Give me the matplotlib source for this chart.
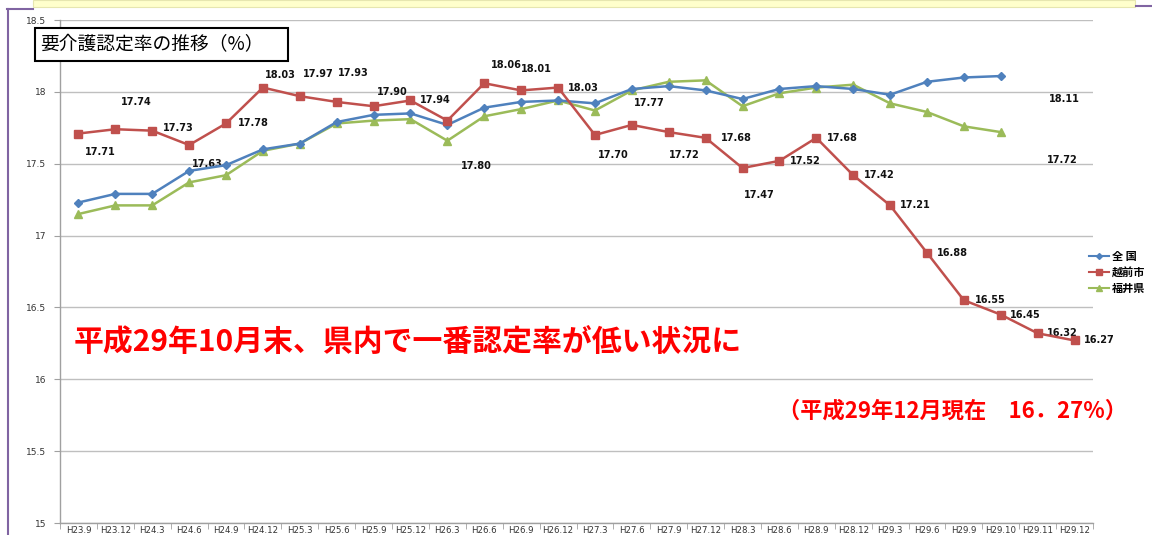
import matplotlib
matplotlib.use("Agg")
import matplotlib.pyplot as plt
from matplotlib.patches import Rectangle
from matplotlib.lines import Line2D

plt.rcParams['font.family'] = ['DejaVu Sans', 'Noto Sans CJK JP']

# ---------------- data ----------------
periods = ["H23.9", "H23.12", "H24.3", "H24.6", "H24.9", "H24.12", "H25.3", "H25.6",
           "H25.9", "H25.12", "H26.3", "H26.6", "H26.9", "H26.12", "H27.3", "H27.6",
           "H27.9", "H27.12", "H28.3", "H28.6", "H28.9", "H28.12", "H29.3", "H29.6",
           "H29.9", "H29.10", "H29.11", "H29.12"]

national = [17.23, 17.29, 17.29, 17.45, 17.49, 17.60, 17.64, 17.79, 17.84, 17.85,
            17.77, 17.89, 17.93, 17.94, 17.92, 18.02, 18.04, 18.01, 17.95, 18.02,
            18.04, 18.02, 17.98, 18.07, 18.10, 18.11]

echizen = [17.71, 17.74, 17.73, 17.63, 17.78, 18.03, 17.97, 17.93, 17.90, 17.94,
           17.80, 18.06, 18.01, 18.03, 17.70, 17.77, 17.72, 17.68, 17.47, 17.52,
           17.68, 17.42, 17.21, 16.88, 16.55, 16.45, 16.32, 16.27]

fukui = [17.15, 17.21, 17.21, 17.37, 17.42, 17.59, 17.64, 17.78, 17.80, 17.81,
         17.66, 17.83, 17.88, 17.94, 17.87, 18.01, 18.07, 18.08, 17.90, 17.99,
         18.03, 18.05, 17.92, 17.86, 17.76, 17.72]

series_names = ["全 国", "越前市", "福井県"]
yticks = [15, 15.5, 16, 16.5, 17, 17.5, 18, 18.5]
ytick_labels = ["15", "15.5", "16", "16.5", "17", "17.5", "18", "18.5"]

title_text = "要介護認定率の推移（%）"
note_text = "平成29年10月末、県内で一番認定率が低い状況に"
note2_text = "（平成29年12月現在　16．27%）"

# label offsets (pixels) for the Echizen data labels, as drawn in the original
label_offsets = [(22, -18), (21, 27), (26, 3), (18, -19), (27, 0), (17, 13), (19, 22),
                 (17, 29), (19, 14), (25, 0), (29, -45), (22, 18), (15, 21), (25, 0),
                 (18, -20), (17, 22), (16, -23), (31, 0), (17, -27), (26, 0), (26, 0),
                 (26, 0), (25, 0), (25, 0), (26, 0), (25, 0), (25, 0), (25, 0)]

# ---------------- figure ----------------
W, H = 1152, 535
fig = plt.figure(figsize=(W / 100, H / 100), dpi=100)
fig.patch.set_facecolor("white")

ax = fig.add_axes([60 / W, 12 / H, 1033 / W, 503 / H])

BLUE = "#4F81BD"
RED = "#C0504D"
GREEN = "#9BBB59"

xn = list(range(len(national)))
xe = list(range(len(echizen)))
xf = list(range(len(fukui)))

ax.plot(xn, national, color=BLUE, lw=1.8, marker="D", ms=4.5, mfc=BLUE, mec=BLUE, zorder=4)
ax.plot(xe, echizen, color=RED, lw=1.8, marker="s", ms=6, mfc=RED, mec=RED, zorder=5)
ax.plot(xf, fukui, color=GREEN, lw=1.8, marker="^", ms=6, mfc=GREEN, mec=GREEN, zorder=3)

ax.set_xlim(-0.5, len(periods) - 0.5)
ax.set_ylim(15, 18.5)
ax.set_yticks(yticks)
ax.set_yticklabels(ytick_labels, fontsize=6.5, color="#333333")
ax.yaxis.grid(True, color="#BFBFBF", lw=1.0)
ax.set_axisbelow(True)

ax.set_xticks(range(len(periods)))
ax.set_xticklabels(periods, fontsize=6.2, color="#333333")
ax.set_xticks([i - 0.5 for i in range(len(periods) + 1)], minor=True)
ax.tick_params(axis="x", which="major", length=0, pad=2)
ax.tick_params(axis="x", which="minor", length=4, color="#A0A0A0")
ax.tick_params(axis="y", length=4, color="#A0A0A0", pad=6)

for s in ["top", "right"]:
    ax.spines[s].set_visible(False)
for s in ["left", "bottom"]:
    ax.spines[s].set_color("#A0A0A0")
    ax.spines[s].set_linewidth(1.0)

# data labels
for i, v in enumerate(echizen):
    dx, dy = label_offsets[i]
    ax.annotate(f"{v:.2f}", (i, v), xytext=(dx, dy), textcoords="offset pixels",
                ha="center", va="center", fontsize=7, fontweight="bold", color="#111111",
                annotation_clip=False)
ax.annotate(f"{national[-1]:.2f}", (len(national) - 1, national[-1]), xytext=(64, -23),
            textcoords="offset pixels", ha="center", va="center", fontsize=7,
            fontweight="bold", color="#111111", annotation_clip=False)
ax.annotate(f"{fukui[-1]:.2f}", (len(fukui) - 1, fukui[-1]), xytext=(62, -28),
            textcoords="offset pixels", ha="center", va="center", fontsize=7,
            fontweight="bold", color="#111111", annotation_clip=False)

# legend
handles = [Line2D([], [], color=BLUE, lw=1.5, marker="D", ms=3),
           Line2D([], [], color=RED, lw=1.5, marker="s", ms=4),
           Line2D([], [], color=GREEN, lw=1.5, marker="^", ms=4)]
fig.legend(handles, series_names, loc="upper left",
           bbox_to_anchor=(1089 / W, 1 - 250 / H), frameon=False,
           prop={"family": "Noto Sans CJK JP", "size": 8, "weight": "bold"},
           handlelength=1.8, handletextpad=0.3, labelspacing=0.25, borderpad=0,
           borderaxespad=0)

# title box
fig.add_artist(Rectangle((35 / W, 1 - 61 / H), 253 / W, 33 / H, transform=fig.transFigure,
                         facecolor="white", edgecolor="black", lw=1.5, zorder=10))
fig.text(40 / W, 1 - 44.5 / H, title_text, fontsize=13.5, family="Noto Sans CJK JP",
         ha="left", va="center", color="black", zorder=11)

# red notes
fig.text(74 / W, 1 - 343 / H, note_text, fontsize=21.5, fontweight="bold",
         family="Noto Sans CJK JP", color="#FF0000", ha="left", va="center")
fig.text(778 / W, 1 - 411 / H, note2_text, fontsize=16, fontweight="bold",
         family="Noto Sans CJK JP", color="#FF0000", ha="left", va="center")

# decorative slide frame
fig.add_artist(Rectangle((33 / W, 1 - 7 / H), 1102 / W, 7 / H, transform=fig.transFigure,
                         facecolor="#FFFFCC", edgecolor="#E6E6B0", lw=0.8, zorder=9))
PURPLE = "#8064A2"
fig.add_artist(Line2D([8 / W, 8 / W], [0, 1 - 9 / H], transform=fig.transFigure,
                      color=PURPLE, lw=1.5, zorder=9))
fig.add_artist(Line2D([7 / W, 33 / W], [1 - 9 / H, 1 - 9 / H], transform=fig.transFigure,
                      color=PURPLE, lw=1.5, zorder=9))
fig.add_artist(Line2D([1136 / W, 1], [1 - 6 / H, 1 - 6 / H], transform=fig.transFigure,
                      color=PURPLE, lw=1.5, zorder=9))

fig.savefig("out.png", dpi=100)
